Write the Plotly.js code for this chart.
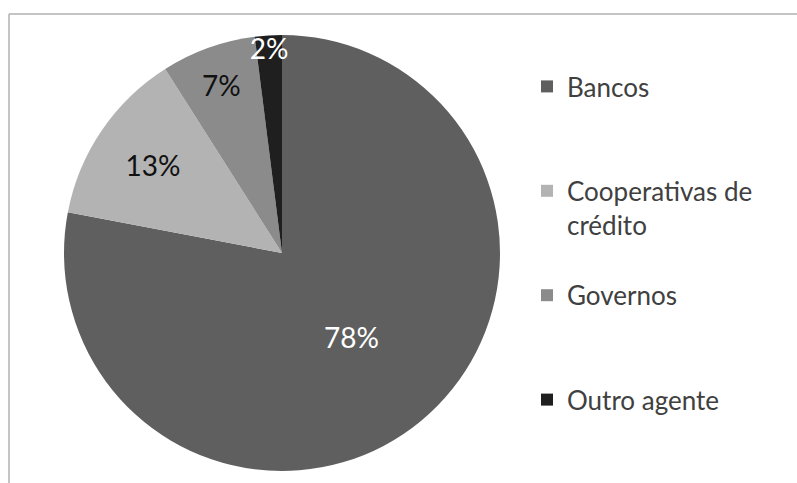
<!DOCTYPE html>
<html>
<head>
<meta charset="utf-8">
<script src="https://cdn.plot.ly/plotly-3.0.1.min.js"></script>
<style>html,body{margin:0;padding:0;background:#fff;}#chart{width:797px;height:483px;}</style>
</head>
<body>
<div id="chart"></div>
<script>
// Data
var categories = ["Bancos", "Cooperativas de<br>crédito", "Governos", "Outro agente"];
var shares = [78, 13, 7, 2];
var sliceColors = ["#5f5f5f", "#b3b3b3", "#8b8b8b", "#1f1f1f"];
var labelColors = ["#ffffff", "#111111", "#111111", "#ffffff"];

// Legend entries padded with blank lines to reproduce the wide spacing
var legendLabels = categories.map(function (c, idx) {
  if (idx === categories.length - 1) return c;
  var lines = c.split("<br>").length;
  var pad = 3 - lines;
  var s = c;
  for (var i = 0; i < pad; i++) s += "<br> ";
  return s;
});

var trace = {
  type: "pie",
  labels: legendLabels,
  values: shares,
  sort: false,
  direction: "clockwise",
  rotation: 0,
  marker: { colors: sliceColors, line: { width: 0 } },
  textinfo: "percent",
  texttemplate: "%{value}%",
  textposition: "inside",
  insidetextorientation: "horizontal",
  insidetextfont: { family: "Lato, sans-serif", size: 28, color: labelColors },
  hoverinfo: "none",
  domain: { x: [64 / 797, 500 / 797], y: [1 - 471 / 483, 1 - 35 / 483] },
  automargin: false
};

var layout = {
  width: 797,
  height: 483,
  margin: { l: 0, r: 0, t: 0, b: 0 },
  paper_bgcolor: "#ffffff",
  showlegend: true,
  uniformtext: { minsize: 28, mode: "show" },
  legend: {
    x: 527 / 797,
    y: 1 - 63 / 483,
    xanchor: "left",
    yanchor: "top",
    valign: "top",
    font: { family: "Lato, sans-serif", size: 26, color: "#404040" },
    bgcolor: "rgba(0,0,0,0)"
  },
  shapes: [
    { type: "line", xref: "paper", yref: "paper", x0: 9 / 797, x1: 1, y0: 1 - 14 / 483, y1: 1 - 14 / 483, line: { color: "#b0b0b0", width: 1.5 } },
    { type: "line", xref: "paper", yref: "paper", x0: 9 / 797, x1: 9 / 797, y0: 0, y1: 1 - 14 / 483, line: { color: "#b0b0b0", width: 1.5 } }
  ]
};

Plotly.newPlot("chart", [trace], layout, { displayModeBar: false, staticPlot: true });
</script>
</body>
</html>
